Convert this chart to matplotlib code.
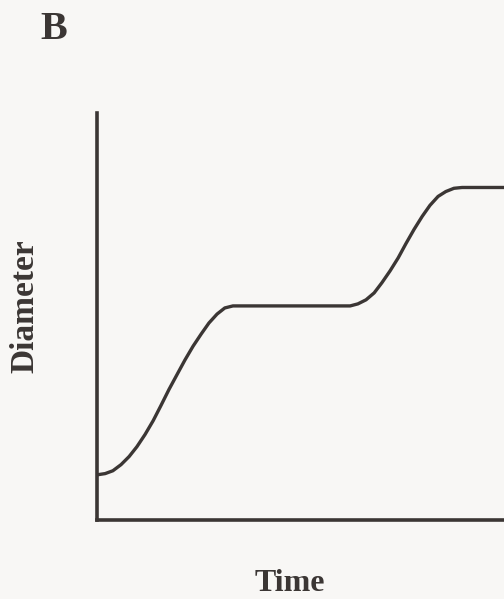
import matplotlib
matplotlib.use("Agg")
import matplotlib.pyplot as plt

# values (time and diameter in arbitrary units, 0-100)
time_1 = [0.0, 2.0, 3.9, 5.9, 7.9, 9.8, 11.8, 13.8, 15.7, 17.7, 19.7, 21.6,
          23.6, 25.6, 27.5, 29.5, 31.4, 33.4]
diam_1 = [11.1, 11.4, 12.1, 13.6, 15.6, 18.0, 21.0, 24.4, 28.1, 32.1, 35.8, 39.3,
          42.7, 45.7, 48.4, 50.6, 52.1, 52.6]
time_2 = [62.2, 64.1, 66.1, 68.1, 70.0, 72.0, 74.0, 75.9, 77.9, 79.9, 81.8,
          83.8, 85.7, 87.7, 89.7, 100.0]
diam_2 = [52.6, 53.1, 54.1, 55.8, 58.3, 61.2, 64.4, 67.9, 71.4, 74.6, 77.3,
          79.5, 80.7, 81.5, 81.7, 81.7]

time = time_1 + time_2
diameter = diam_1 + diam_2

W, H = 504, 599
bg = '#f8f7f5'
ink = '#3b3634'

fig = plt.figure(figsize=(W / 100, H / 100), dpi=100, facecolor=bg)
ax = fig.add_axes([97 / W, (H - 520) / H, (W - 97) / W, (520 - 113) / H])
ax.set_facecolor(bg)

ax.plot(time, diameter, color=ink, lw=2.4, solid_capstyle='round', solid_joinstyle='round')

ax.set_xlim(0, 100)
ax.set_ylim(0, 100)
for s in ['top', 'right']:
    ax.spines[s].set_visible(False)
for s in ['left', 'bottom']:
    ax.spines[s].set_color(ink)
    ax.spines[s].set_linewidth(2.6)
ax.set_xticks([])
ax.set_yticks([])

serif = ['Liberation Serif', 'DejaVu Serif']
fig.text(40 / W, 1 - 39 / H, 'B', fontsize=29, fontweight='bold', family=serif,
         color=ink, ha='left', va='baseline')
fig.text(25 / W, 1 - 306 / H, 'Diameter', fontsize=24, fontweight='bold', family=serif,
         color=ink, ha='center', va='center', rotation=90)
fig.text(290 / W, 1 - 591 / H, 'Time', fontsize=23, fontweight='bold', family=serif,
         color=ink, ha='center', va='baseline')

fig.savefig('out.png', dpi=100, facecolor=bg)
